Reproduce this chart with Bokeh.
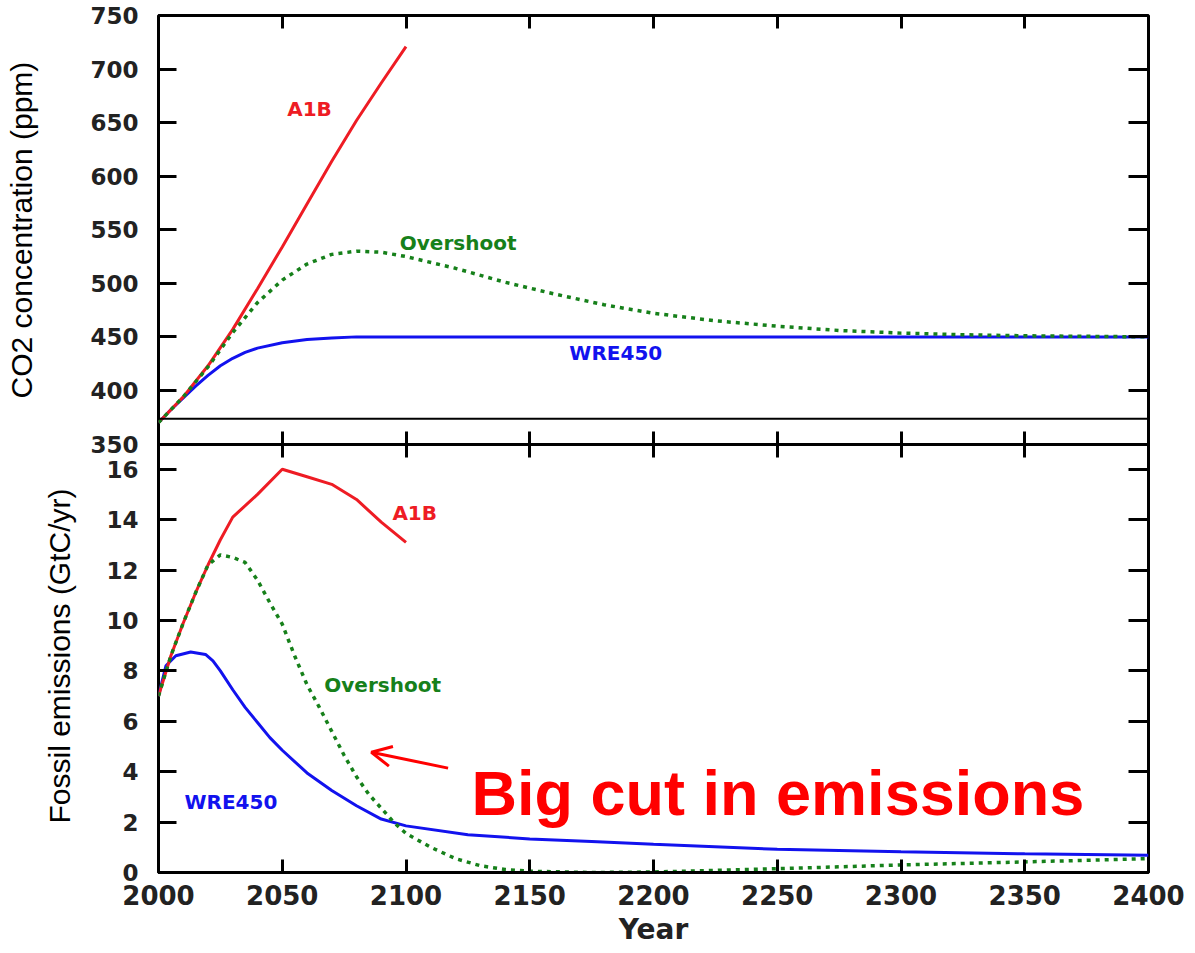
from bokeh.plotting import figure
from bokeh.models import (Range1d, LinearAxis, FixedTicker, Span, Label, Arrow, OpenHead,
                          Title, CustomJSTickFormatter)
from bokeh.embed import file_html
from bokeh.resources import INLINE

# ---------------- data ----------------
x_ticks = [2000, 2050, 2100, 2150, 2200, 2250, 2300, 2350, 2400]
co2_ticks = [350, 400, 450, 500, 550, 600, 650, 700, 750]
fossil_ticks = [0, 2, 4, 6, 8, 10, 12, 14, 16]

# CO2 concentration (ppm)
co2_a1b_years = [2000, 2010, 2020, 2030, 2040, 2050, 2060, 2070, 2080, 2090, 2100]
co2_a1b = [370, 394, 423, 457, 495, 534, 574, 614, 652, 687, 721]

co2_over_years = [2000, 2010, 2020, 2030, 2040, 2050, 2060, 2070, 2080, 2090, 2100,
                  2120, 2140, 2160, 2180, 2200, 2225, 2250, 2275, 2300, 2325, 2350, 2375, 2400]
co2_over = [370, 394, 422, 454, 482, 503, 518, 527, 530, 529, 525,
            514, 501, 490, 480, 472, 465, 460, 456, 453.5, 452, 451, 450.5, 450]

co2_wre_years = [2000, 2005, 2010, 2015, 2020, 2025, 2030, 2035, 2040, 2050, 2060, 2070, 2080, 2100, 2400]
co2_wre = [370, 382, 393, 404, 414, 423, 430, 435.5, 439.5, 444.5, 447.5, 449, 450, 450, 450]

# Fossil emissions (GtC/yr)
em_a1b_years = [2000, 2005, 2010, 2015, 2020, 2025, 2030, 2040, 2050, 2060, 2070, 2080, 2090, 2100]
em_a1b = [7.0, 8.6, 9.9, 11.1, 12.2, 13.2, 14.1, 15.0, 16.0, 15.7, 15.4, 14.8, 13.9, 13.1]

em_over_years = [2000, 2005, 2010, 2015, 2020, 2025, 2030, 2035, 2040, 2045, 2050, 2055, 2060,
                 2065, 2070, 2075, 2080, 2085, 2090, 2095, 2100, 2110, 2120, 2130, 2140, 2150,
                 2175, 2200, 2250, 2300, 2350, 2400]
em_over = [7.0, 8.6, 9.9, 11.1, 12.2, 12.6, 12.5, 12.3, 11.6, 10.7, 9.85, 8.6, 7.45,
           6.55, 5.6, 4.65, 3.8, 3.1, 2.55, 2.0, 1.55, 1.0, 0.55, 0.27, 0.12, 0.05,
           0.0, 0.02, 0.15, 0.3, 0.42, 0.55]

em_wre_years = [2000, 2003, 2007, 2013, 2019, 2022, 2025, 2030, 2035, 2040, 2045, 2050, 2060,
                2070, 2080, 2090, 2100, 2125, 2150, 2175, 2200, 2250, 2300, 2350, 2400]
em_wre = [7.0, 8.2, 8.6, 8.75, 8.65, 8.4, 8.0, 7.25, 6.55, 5.95, 5.35, 4.85, 3.95,
          3.25, 2.65, 2.12, 1.85, 1.5, 1.33, 1.23, 1.12, 0.92, 0.82, 0.74, 0.68]

RED = "#ee1c24"
GREEN = "#16801a"
BLUE = "#1212ee"
TICK_COLOR = "#222222"

# ranges: upper panel (ppm) fills the top half of one frame, lower panel (GtC/yr) the rest
CO2_LO, CO2_HI = -50, 750
FOSSIL_LO, FOSSIL_HI = 0, 34
scale = (CO2_HI - CO2_LO) / (FOSSIL_HI - FOSSIL_LO)


def fossil_to_primary(v):
    return CO2_LO + (v - FOSSIL_LO) * scale


# ---------------- figure ----------------
p = figure(frame_width=990, frame_height=857,
           min_border_left=158, min_border_right=45, min_border_top=15, min_border_bottom=20,
           x_range=Range1d(2000, 2400), y_range=Range1d(CO2_LO, CO2_HI),
           x_axis_type=None, y_axis_type=None,
           toolbar_location=None, output_backend="svg")
p.extra_y_ranges = {"fossil": Range1d(FOSSIL_LO, FOSSIL_HI)}
p.outline_line_color = "black"
p.outline_line_width = 3
p.background_fill_color = "white"
p.border_fill_color = "white"

tick_font = "DejaVu Sans"
blank = CustomJSTickFormatter(code="return ''")

# bottom x axis with labels and title
xb = LinearAxis(ticker=FixedTicker(ticks=x_ticks),
                major_tick_in=13, major_tick_out=0, major_tick_line_width=3,
                axis_line_width=3, minor_tick_line_color=None,
                major_label_text_font=tick_font, major_label_text_font_style="bold",
                major_label_text_font_size="26px", major_label_text_color=TICK_COLOR,
                major_label_standoff=12,
                axis_label="Year", axis_label_text_font=tick_font,
                axis_label_text_font_style="bold", axis_label_text_font_size="28px",
                axis_label_text_color=TICK_COLOR, axis_label_standoff=5)
p.add_layout(xb, "below")

# top ticks (inward)
xt = LinearAxis(ticker=FixedTicker(ticks=x_ticks), fixed_location=CO2_HI,
                major_tick_in=13, major_tick_out=0, major_tick_line_width=3,
                axis_line_color=None, minor_tick_line_color=None,
                formatter=blank, major_label_standoff=0)
p.add_layout(xt, "above")

# middle separating axis at 350 ppm
xm = LinearAxis(ticker=FixedTicker(ticks=x_ticks), fixed_location=co2_ticks[0],
                major_tick_in=13, major_tick_out=13, major_tick_line_width=3,
                axis_line_width=3, minor_tick_line_color=None,
                formatter=blank, major_label_standoff=0)
p.add_layout(xm, "below")

# left axis: ppm ticks on the upper half, GtC/yr ticks on the lower half
left_ticks = [float(t) for t in co2_ticks] + [fossil_to_primary(t) for t in fossil_ticks]
left_fmt = CustomJSTickFormatter(
    args=dict(lo=co2_ticks[0], bottom=CO2_LO, scale=scale, flo=FOSSIL_LO),
    code="""
    if (tick >= lo - 1e-6) { return tick.toFixed(0); }
    return Math.round((tick - bottom) / scale + flo).toString();
    """)
yl = LinearAxis(ticker=FixedTicker(ticks=left_ticks), formatter=left_fmt,
                major_tick_in=18, major_tick_out=0, major_tick_line_width=3,
                axis_line_color=None, minor_tick_line_color=None,
                major_label_text_font=tick_font, major_label_text_font_style="bold",
                major_label_text_font_size="23px", major_label_text_color=TICK_COLOR,
                major_label_standoff=20)
p.add_layout(yl, "left")

# axis titles (side panels, shifted along the axis from the bottom of the frame)
p.add_layout(Title(text="Fossil emissions (GtC/yr)", align="left", offset=49,
                   text_font="Liberation Sans", text_font_size="30px",
                   text_font_style="normal", text_color="black", standoff=23), "left")
p.add_layout(Title(text="CO2 concentration (ppm)", align="left", offset=474,
                   text_font="Liberation Sans", text_font_size="30px",
                   text_font_style="normal", text_color="black", standoff=-17), "left")

# right axes (ticks only)
yr1 = LinearAxis(ticker=FixedTicker(ticks=co2_ticks), fixed_location=2400,
                 major_tick_in=20, major_tick_out=0, major_tick_line_width=3,
                 axis_line_color=None, minor_tick_line_color=None,
                 formatter=blank, major_label_standoff=0)
p.add_layout(yr1, "right")
yr2 = LinearAxis(y_range_name="fossil", ticker=FixedTicker(ticks=fossil_ticks), fixed_location=2400,
                 major_tick_in=20, major_tick_out=0, major_tick_line_width=3,
                 axis_line_color=None, minor_tick_line_color=None,
                 formatter=blank, major_label_standoff=0)
p.add_layout(yr2, "right")

# separator line (top of lower panel)
p.add_layout(Span(location=18, dimension="width", y_range_name="fossil",
                  line_color="black", line_width=2))

# ---------------- series ----------------
p.line(co2_wre_years, co2_wre, line_color=BLUE, line_width=3)
p.line(co2_a1b_years, co2_a1b, line_color=RED, line_width=3)
p.line(co2_over_years, co2_over, line_color=GREEN, line_width=3.5, line_dash="4 5")

p.line(em_wre_years, em_wre, line_color=BLUE, line_width=3, y_range_name="fossil")
p.line(em_a1b_years, em_a1b, line_color=RED, line_width=3, y_range_name="fossil")
p.line(em_over_years, em_over, line_color=GREEN, line_width=3.5, line_dash="4 5", y_range_name="fossil")


# ---------------- series labels ----------------
def series_label(x, y, text, color, rng="default"):
    p.add_layout(Label(x=x, y=y, text=text, text_color=color, text_font="DejaVu Sans",
                       text_font_style="bold", text_font_size="20px",
                       text_align="left", text_baseline="middle", y_range_name=rng))


series_label(2052, 663, "A1B", RED)
series_label(2097.5, 538, "Overshoot", GREEN)
series_label(2166, 435, "WRE450", BLUE)
series_label(2094.5, 14.25, "A1B", RED, "fossil")
series_label(2067, 7.42, "Overshoot", GREEN, "fossil")
series_label(2010.5, 2.8, "WRE450", BLUE, "fossil")

# annotation
p.add_layout(Label(x=2126.5, y=3.17, y_range_name="fossil", text="Big cut in emissions",
                   text_font="Liberation Sans", text_font_style="bold", text_font_size="63px",
                   text_color="#ff0000", text_align="left", text_baseline="alphabetic"))
p.add_layout(Arrow(end=OpenHead(size=20, line_color="#ff0000", line_width=3),
                   x_start=2117, y_start=4.14, x_end=2086, y_end=4.77, y_range_name="fossil",
                   line_color="#ff0000", line_width=3))

open("out.html", "w").write(file_html(p, INLINE))
